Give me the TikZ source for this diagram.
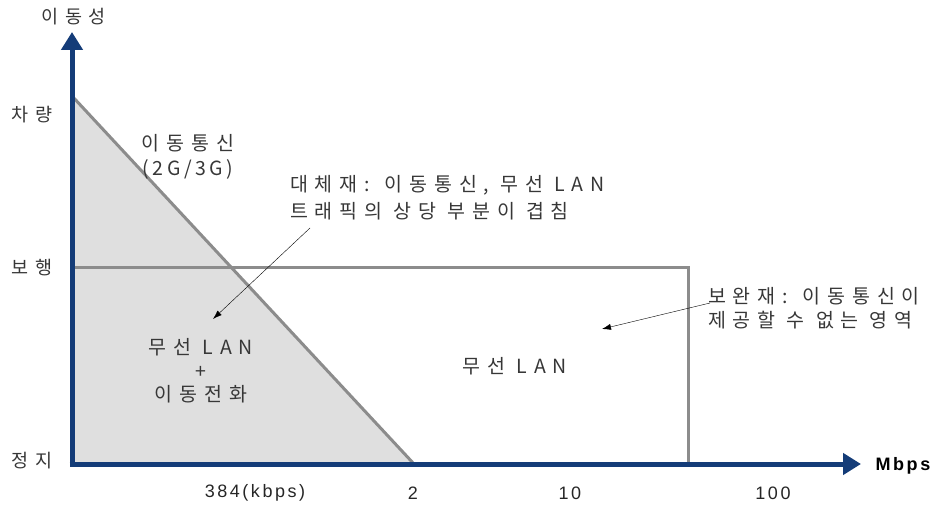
\documentclass[tikz,border=0pt]{standalone}
\usepackage{fontspec}
\setmainfont{Noto Sans CJK KR}[LetterSpace=35]
\newfontfamily\latin{Liberation Sans}[LetterSpace=14]
\usetikzlibrary{arrows.meta}

\begin{document}
\begin{tikzpicture}[x=1pt,y=-1pt,
    axis/.style={line width=5pt,draw={rgb,255:red,20;green,60;blue,120},-{Triangle[length=18pt,width=21pt]}},
    lim/.style={line width=3pt,draw={rgb,255:red,140;green,140;blue,140}},
    lbl/.style={font=\fontsize{19.5}{25}\selectfont,text={rgb,255:red,55;green,55;blue,55},inner sep=0pt,align=center},
    num/.style={lbl,font=\fontsize{18}{20}\latin,text=black!85},
    note/.style={lbl,align=left,anchor=west},
    pt/.style={thin,-{Latex[length=9pt,width=6pt]}}]
    \useasboundingbox (0,0) rectangle (938,508);

    \coordinate (o) at (72,464);
    \coordinate (ytop) at (72,32);
    \coordinate (xend) at (861,464);
    \coordinate (car) at (72,96);
    \coordinate (still) at (414,464);
    \coordinate (walk) at (72,267);
    \coordinate (rtop) at (688,267);
    \coordinate (rbot) at (688,464);

    \fill[gray!25] (car) -- (still) -- (o) -- cycle;
    \draw[lim] (car) -- (still);
    \draw[lim] (walk) -- (rtop) -- (rbot);
    \draw[axis] (o) -- (ytop);
    \draw[axis] ([xshift=-2.5pt]o) -- (xend);

    % axis labels
    \node[lbl,font=\fontsize{18.5}{25}\selectfont] (ylab) at (74,17) {이동성};
    \node[num,font=\fontsize{18}{20}\latin\bfseries,text=black] (xlab) at (903,466) {Mbps};
    \node[lbl,font=\fontsize{18.5}{25}\selectfont] (lcar) at (32,115) {차량};
    \node[lbl,font=\fontsize{18.5}{25}\selectfont] (lwalk) at (32,268) {보행};
    \node[lbl,font=\fontsize{18.5}{25}\selectfont] (lstill) at (32,461) {정지};
    \node[num] (t384) at (255,493) {384(kbps)};
    \node[num] (t2) at (413,493) {2};
    \node[num] (t10) at (570,493) {10};
    \node[num] (t100) at (773,493) {100};

    % areas
    \node[lbl] (mob) at (188,157) {이동통신\\{\addfontfeature{LetterSpace=18}(2G/3G)}};
    \node[lbl,font=\fontsize{19.5}{23.5}\selectfont] (both) at (201,371) {무선 LAN\\+\\이동전화};
    \node[lbl] (wlan) at (515,366) {무선 LAN};

    % notes
    \node[note,font=\fontsize{19.5}{27}\selectfont] (subst) at (290,198) {대체재: 이동통신, 무선 LAN\\트래픽의 상당 부분이 겹침};
    \node[note,font=\fontsize{19.5}{24}\selectfont] (compl) at (708,308) {보완재: 이동통신이\\제공할 수 없는 영역};
    \coordinate (sfrom) at (310,228);
    \coordinate (sto) at (213,319);
    \coordinate (cfrom) at (710,303);
    \coordinate (cto) at (602,329);
    \draw[pt] (sfrom) -- (sto);
    \draw[pt] (cfrom) -- (cto);
\end{tikzpicture}
\end{document}
